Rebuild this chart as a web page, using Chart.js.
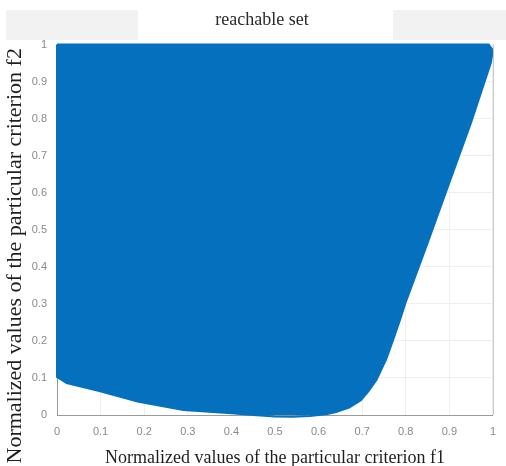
<!DOCTYPE html>
<html>
<head>
<meta charset="utf-8">
<script src="https://cdn.jsdelivr.net/npm/chart.js@4/dist/chart.umd.min.js"></script>
<style>
  html, body { margin: 0; padding: 0; background: #ffffff; }
  #wrap { width: 506px; height: 466px; }
</style>
</head>
<body>
<div id="wrap"><canvas id="c" width="506" height="466"></canvas></div>
<script>
// ---- Data (boundary of the reachable set, f1 vs f2) ----
const boundaryF1 = [0.0, 0.99, 1.0, 0.995, 0.95, 0.9, 0.85, 0.8, 0.787, 0.771, 0.755, 0.733, 0.715, 0.697, 0.67, 0.64, 0.62, 0.58, 0.54, 0.5, 0.45, 0.4, 0.29, 0.187, 0.097, 0.022, 0.0, 0.0];
const boundaryF2 = [1.0, 1.0, 0.985, 0.95, 0.79, 0.627, 0.464, 0.305, 0.257, 0.203, 0.15, 0.095, 0.065, 0.04, 0.02, 0.008, 0.003, -0.003, -0.005, -0.004, 0.0, 0.005, 0.0135, 0.036, 0.065, 0.086, 0.103, 1.0];
const xTickLabels = ["0", "0.1", "0.2", "0.3", "0.4", "0.5", "0.6", "0.7", "0.8", "0.9", "1"];
const yTickLabels = ["0", "0.1", "0.2", "0.3", "0.4", "0.5", "0.6", "0.7", "0.8", "0.9", "1"];
const chartTitle = "reachable set";
const xTitle = "Normalized values of the particular criterion f1";
const yTitle = "Normalized values of the particular criterion f2";

const points = boundaryF1.map((x, i) => ({ x: x, y: boundaryF2[i] }));

const bgPlugin = {
  id: 'bgPatches',
  beforeDraw(chart) {
    const ctx = chart.ctx;
    ctx.save();
    ctx.fillStyle = '#ffffff';
    ctx.fillRect(0, 0, chart.width, chart.height);
    ctx.fillStyle = '#f2f2f2';
    ctx.fillRect(6, 10, 132, 30);
    ctx.fillRect(393, 10, 113, 30);
    ctx.restore();
  },
  afterDraw(chart) {
    const a = chart.chartArea;
    const ctx = chart.ctx;
    ctx.save();
    ctx.strokeStyle = '#c8c8c8';
    ctx.lineWidth = 1;
    ctx.beginPath();
    ctx.moveTo(a.right + 0.5, a.top);
    ctx.lineTo(a.right + 0.5, a.bottom);
    ctx.stroke();
    ctx.restore();
  }
};

const chart = new Chart(document.getElementById('c'), {
  type: 'scatter',
  data: {
    datasets: [{
      label: 'reachable set',
      data: points,
      showLine: true,
      fill: 'shape',
      backgroundColor: '#0571be',
      borderColor: '#0571be',
      borderWidth: 2,
      pointRadius: 0,
      tension: 0,
      clip: false
    }]
  },
  options: {
    responsive: false,
    animation: false,
    devicePixelRatio: 1,
    layout: { padding: { left: 0, right: 4, top: 0, bottom: 0 } },
    plugins: {
      legend: { display: false },
      tooltip: { enabled: false },
      title: {
        display: true,
        text: chartTitle,
        color: '#2a2a2a',
        font: { family: 'Liberation Serif', size: 18, weight: 'normal' },
        padding: { top: 9, bottom: 14 }
      }
    },
    scales: {
      x: {
        type: 'linear',
        min: 0, max: 1,
        afterFit(scale) { scale.height = 51; },
        afterBuildTicks(scale) {
          scale.ticks = xTickLabels.map(t => ({ value: parseFloat(t) }));
        },
        ticks: {
          padding: 10,
          maxRotation: 0,
          autoSkip: false,
          color: '#8a8a8a',
          font: { family: 'Liberation Sans', size: 11 },
          callback: (v, i) => xTickLabels[i]
        },
        grid: { color: '#efefef', drawTicks: false },
        border: { color: '#9a9a9a', width: 1 },
        title: {
          display: true,
          text: xTitle,
          color: '#1e1e1e',
          font: { family: 'Liberation Serif', size: 18 },
          padding: { top: 0, bottom: -3 }
        }
      },
      y: {
        type: 'linear',
        min: 0, max: 1,
        afterFit(scale) { scale.width = 57; },
        afterBuildTicks(scale) {
          scale.ticks = yTickLabels.map(t => ({ value: parseFloat(t) }));
        },
        ticks: {
          padding: 10,
          autoSkip: false,
          color: '#8a8a8a',
          font: { family: 'Liberation Sans', size: 11 },
          callback: (v, i) => yTickLabels[i]
        },
        grid: { color: '#efefef', drawTicks: false },
        border: { color: '#9a9a9a', width: 1 },
        title: {
          display: true,
          text: yTitle,
          color: '#1e1e1e',
          font: { family: 'Liberation Serif', size: 22 },
          padding: { top: 2, bottom: 0 }
        }
      }
    }
  },
  plugins: [bgPlugin]
});

// shift the (library-drawn) y-axis title down to where the reference places it
const yScale = chart.scales.y;
const origDrawTitle = yScale.drawTitle.bind(yScale);
yScale.drawTitle = function () {
  const ctx = this.ctx;
  ctx.save();
  ctx.translate(0, 26);
  origDrawTitle();
  ctx.restore();
};
// centre the chart title over the same place as in the reference
if (chart.titleBlock) {
  const tb = chart.titleBlock;
  const origTitleDraw = tb.draw.bind(tb);
  tb.draw = function () {
    const ctx = this.ctx;
    ctx.save();
    ctx.translate(11, 0);
    origTitleDraw();
    ctx.restore();
  };
}
chart.draw();
</script>
</body>
</html>
